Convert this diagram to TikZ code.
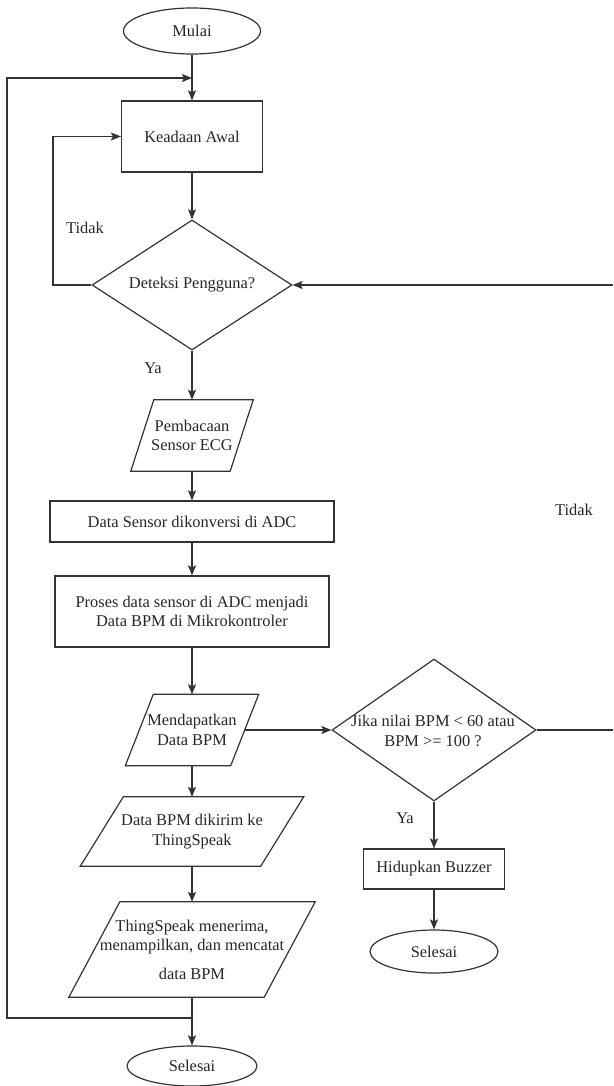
\documentclass[tikz,border=0pt]{standalone}
\usepackage{fontspec}
\setmainfont{Liberation Serif}
\usetikzlibrary{shapes.geometric,arrows.meta,calc}
\newcommand\mypara[7]{%
  \node[lbl, align=center, minimum width=#4pt, minimum height=#5pt] (#1) at (#2,#3) {#7};
  \draw[line] ($(#1.north west)+(0.5*#6,0)$) -- ($(#1.north east)+(0.5*#6,0)$)
    -- ($(#1.south east)-(0.5*#6,0)$) -- ($(#1.south west)-(0.5*#6,0)$) -- cycle;}
\begin{document}
\begin{tikzpicture}[x=1pt,y=-1pt,
  every node/.style={font=\fontsize{16.4}{19.5}\selectfont, text=black!85},
  line/.style={draw=black!80, line width=1.2pt},
  arr/.style={line, -{Stealth[length=10pt,width=8pt,inset=2pt]}},
  proc/.style={rectangle, line, inner sep=0pt, align=center},
  term/.style={ellipse, line, inner sep=0pt},
  dec/.style={diamond, line, inner sep=0pt},
  lbl/.style={inner sep=0pt}]
\useasboundingbox (0,0) rectangle (613,1086);

\node[term, minimum width=137pt, minimum height=46pt] (mulai) at (192,31) {Mulai};
\coordinate (m1) at (192,78);
\node[proc, minimum width=141pt, minimum height=71pt] (awal) at (192,136.5) {Keadaan Awal};
\node[dec, minimum width=200pt, minimum height=130pt] (det) at (192,285) {};
\node[lbl] (dett) at (det.center) {Deteksi Pengguna?};
\node[lbl] (tidak1) at (85,228) {Tidak};
\coordinate (l1) at (53,285);
\coordinate (r1) at (613,285);
\node[lbl] (ya1) at (153,368) {Ya};

\mypara{baca}{192}{435.5}{99}{71}{23}{Pembacaan\\Sensor ECG}
\node[proc, minimum width=284pt, minimum height=41pt] (konv) at (192,521.5) {Data Sensor dikonversi di ADC};
\node[proc, minimum width=274pt, minimum height=71pt] (proses) at (192,611.5) {Proses data sensor di ADC menjadi\\Data BPM di Mikrokontroler};
\mypara{dapat}{192}{730}{105}{71}{28}{Mendapatkan\\Data BPM}

\node[dec, minimum width=204pt, minimum height=142pt] (det2) at (434,730) {};
\node[lbl, align=center] (det2t) at (433,731) {Jika nilai BPM < 60 atau\\BPM >= 100 ?};
\coordinate (r2) at (613,730);
\node[lbl] (tidak2) at (574,510) {Tidak};
\node[lbl] (ya2) at (405,818) {Ya};
\node[proc, minimum width=141pt, minimum height=40pt] (buzz) at (434,869) {Hidupkan Buzzer};
\node[term, minimum width=128pt, minimum height=43pt] (sel2) at (434,951.5) {Selesai};

\mypara{kirim}{192}{831.5}{180}{69}{43}{Data BPM dikirim ke\\ThingSpeak}
\mypara{ts}{192}{949.5}{195}{95}{51}{ThingSpeak menerima,\\menampilkan, dan mencatat\\[9pt]data BPM}
\coordinate (j2) at (192,1018);
\coordinate (c1) at (7,1018);
\coordinate (c2) at (7,78);
\node[term, minimum width=130pt, minimum height=40pt] (sel1) at (192,1066) {Selesai};

\draw[arr] (mulai) -- (awal);
\draw[arr] (j2) -- (c1) -- (c2) -- (m1);
\draw[arr] (awal) -- (det);
\draw[arr] (det.west) -- (l1) |- (awal.west);
\draw[arr] (r1) -- (det.east);
\draw[arr] (det) -- (baca);
\draw[arr] (baca) -- (konv);
\draw[arr] (konv) -- (proses);
\draw[arr] (proses) -- (dapat);
\draw[arr] (dapat.east) -- (det2.west);
\draw[line] (det2.east) -- (r2);
\draw[arr] (det2) -- (buzz);
\draw[arr] (buzz) -- (sel2);
\draw[arr] (dapat) -- (kirim);
\draw[arr] (kirim) -- (ts);
\draw[arr] (ts) -- (sel1);
\end{tikzpicture}
\end{document}
